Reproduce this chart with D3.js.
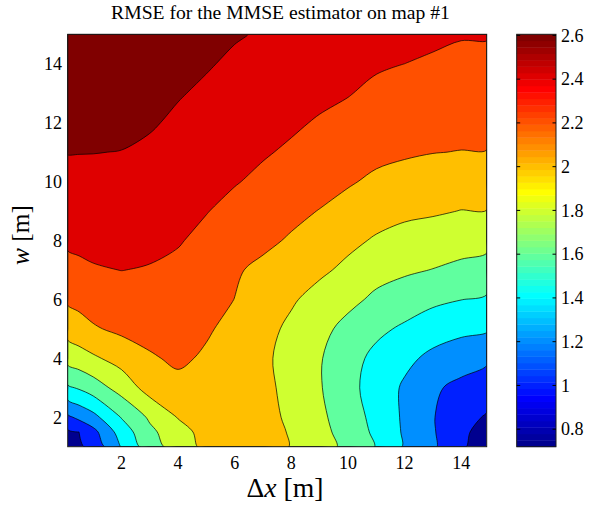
<!DOCTYPE html>
<html><head><meta charset="utf-8">
<script src="https://cdn.jsdelivr.net/npm/d3@7"></script>
<style>
body{margin:0;background:#fff}
svg{display:block}
</style>
</head><body>
<svg id="chart" width="589" height="506" font-family="'Liberation Serif', 'DejaVu Serif', serif"></svg>
<script>
// ---- data ----
const title = "RMSE for the MMSE estimator on map #1";
const xGrid = [0.1, 0.5, 1, 2, 3, 4, 5, 6, 7, 8, 9, 10, 11, 12, 13, 14, 14.9];   // Δx [m]
const yGrid = [1, 1.5, 2, 3, 4, 5, 6, 7, 8, 9, 10, 11, 12, 13, 14, 15];            // w [m]
// RMSE values, one row per w (bottom to top), one column per Δx
const rmseW1   = [0.72, 0.77, 0.86, 1.21, 1.51, 1.69, 1.85, 1.93, 1.90, 1.79, 1.68, 1.55, 1.39, 1.18, 1.03, 0.82, 0.72];
const rmseW1_5 = [0.77, 0.80, 0.94, 1.29, 1.556, 1.723, 1.87, 1.94, 1.89, 1.78, 1.659, 1.522, 1.36, 1.175, 1.019, 0.832, 0.74];
const rmseW2   = [0.96, 1.047, 1.14, 1.41, 1.63, 1.81, 1.91, 1.94, 1.87, 1.76, 1.64, 1.50, 1.34, 1.17, 1.01, 0.875, 0.78];
const rmseW3   = [1.37, 1.42, 1.50, 1.68, 1.88, 1.95, 1.96, 1.93, 1.855, 1.736, 1.615, 1.46, 1.315, 1.173, 1.029, 0.95, 0.90];
const rmseW4   = [1.67, 1.713, 1.77, 1.874, 1.98, 2.03, 1.976, 1.905, 1.834, 1.736, 1.615, 1.474, 1.35, 1.245, 1.155, 1.09, 1.033];
const rmseW5   = [1.88, 1.924, 1.98, 2.04, 2.06, 2.064, 2.02, 1.949, 1.859, 1.762, 1.652, 1.546, 1.442, 1.37, 1.285, 1.245, 1.223];
const rmseW6   = [2.03, 2.055, 2.086, 2.12, 2.125, 2.114, 2.06, 1.998, 1.91, 1.822, 1.735, 1.648, 1.565, 1.50, 1.444, 1.403, 1.377];
const rmseW7   = [2.144, 2.165, 2.186, 2.202, 2.19, 2.164, 2.09, 2.02, 1.96, 1.897, 1.833, 1.76, 1.663, 1.629, 1.595, 1.554, 1.52];
const rmseW8   = [2.23, 2.238, 2.246, 2.25, 2.239, 2.212, 2.158, 2.095, 2.039, 1.98, 1.911, 1.843, 1.78, 1.736, 1.709, 1.68, 1.66];
const rmseW9   = [2.29, 2.295, 2.299, 2.299, 2.283, 2.252, 2.206, 2.153, 2.10, 2.046, 1.994, 1.94, 1.873, 1.838, 1.821, 1.796, 1.797];
const rmseW10  = [2.35, 2.351, 2.352, 2.348, 2.328, 2.293, 2.25, 2.21, 2.166, 2.11, 2.069, 2.017, 1.969, 1.937, 1.915, 1.894, 1.895];
const rmseW11  = [2.405, 2.404, 2.403, 2.397, 2.372, 2.334, 2.291, 2.252, 2.215, 2.177, 2.121, 2.08, 2.041, 2.021, 2.004, 1.996, 1.996];
const rmseW12  = [2.456, 2.452, 2.448, 2.44, 2.416, 2.374, 2.333, 2.293, 2.259, 2.224, 2.185, 2.146, 2.101, 2.081, 2.062, 2.052, 2.052];
const rmseW13  = [2.504, 2.498, 2.492, 2.484, 2.461, 2.411, 2.375, 2.334, 2.301, 2.27, 2.237, 2.209, 2.161, 2.14, 2.119, 2.108, 2.108];
const rmseW14  = [2.552, 2.545, 2.536, 2.527, 2.505, 2.444, 2.413, 2.375, 2.343, 2.315, 2.286, 2.259, 2.222, 2.20, 2.177, 2.164, 2.164];
const rmseW15  = [2.605, 2.59, 2.571, 2.54, 2.508, 2.476, 2.445, 2.413, 2.385, 2.36, 2.335, 2.31, 2.285, 2.26, 2.235, 2.21, 2.21];
const levels = [0.8, 1.0, 1.2, 1.4, 1.6, 1.8, 2.0, 2.2, 2.4];
const xTicks = [2, 4, 6, 8, 10, 12, 14];
const yTicks = [2, 4, 6, 8, 10, 12, 14];
const cTicks = [0.8, 1, 1.2, 1.4, 1.6, 1.8, 2, 2.2, 2.4, 2.6];
const cRange = [0.72, 2.605];

const rmse = [rmseW1, rmseW1_5, rmseW2, rmseW3, rmseW4, rmseW5, rmseW6, rmseW7, rmseW8,
              rmseW9, rmseW10, rmseW11, rmseW12, rmseW13, rmseW14, rmseW15];

// ---- layout ----
const plot = {left: 67.7, right: 486.7, top: 34.3, bottom: 446.7};
const cbar = {left: 516.7, right: 556, top: 34.3, bottom: 446.7};
const FONT = "'Liberation Serif', 'DejaVu Serif', serif";

const svg = d3.select("#chart");
const x = d3.scaleLinear().domain([0.1, 14.9]).range([plot.left, plot.right]);
const y = d3.scaleLinear().domain([1, 15]).range([plot.bottom, plot.top]);
const cy = d3.scaleLinear().domain(cRange).range([cbar.bottom, cbar.top]);

// MATLAB jet(64)
function jetIndex(i) {
  i = Math.max(0, Math.min(63, i));
  const r = i <= 23 ? 0 : i <= 39 ? (i - 23) / 16 : i <= 55 ? 1 : 1 - (i - 55) / 16;
  const g = i <= 7 ? 0 : i <= 23 ? (i - 7) / 16 : i <= 39 ? 1 : i <= 55 ? 1 - (i - 39) / 16 : 0;
  const b = i <= 7 ? 0.5625 + i / 16 : i <= 23 ? 1 : i <= 39 ? 1 - (i - 23) / 16 : 0;
  return d3.rgb(r * 255, g * 255, b * 255).formatHex();
}
function jet(v) {
  return jetIndex(Math.floor((v - cRange[0]) / (cRange[1] - cRange[0]) * 64));
}

// ---- contours ----
const n = xGrid.length, m = yGrid.length;
const values = rmse.flat();
const contours = d3.contours().size([n, m]).thresholds(levels)(values);

function gridVal(arr, c) {
  c = Math.max(0, Math.min(arr.length - 1, c - 0.5));
  const i = Math.min(arr.length - 2, Math.floor(c));
  const f = c - i;
  return arr[i] + f * (arr[i + 1] - arr[i]);
}
const toPx = p => [x(gridVal(xGrid, p[0])), y(gridVal(yGrid, p[1]))];
const ringLine = d3.line().curve(d3.curveCatmullRomClosed.alpha(0.5));
function pathFor(mp) {
  return mp.coordinates.map(poly => poly.map(ring => {
    const pts = ring.slice(0, -1).map(toPx);
    return ringLine(pts);
  }).join("")).join("");
}

svg.append("clipPath").attr("id", "clip").append("rect")
  .attr("x", plot.left).attr("y", plot.top)
  .attr("width", plot.right - plot.left).attr("height", plot.bottom - plot.top);

const g = svg.append("g").attr("clip-path", "url(#clip)");
g.append("rect")
  .attr("x", plot.left).attr("y", plot.top)
  .attr("width", plot.right - plot.left).attr("height", plot.bottom - plot.top)
  .attr("fill", jet(cRange[0]));

const fillLevels = levels.slice(1).concat([2.6]);
g.selectAll("path.band").data(contours).join("path")
  .attr("class", "band")
  .attr("d", d => pathFor(d))
  .attr("fill", (d, i) => jet(fillLevels[i]))
  .attr("fill-rule", "evenodd")
  .attr("stroke", "#000")
  .attr("stroke-width", 0.7)
  .attr("stroke-linejoin", "round");

svg.append("rect")
  .attr("x", plot.left).attr("y", plot.top)
  .attr("width", plot.right - plot.left).attr("height", plot.bottom - plot.top)
  .attr("fill", "none").attr("stroke", "#1a1a1a").attr("stroke-width", 1);

// fit a text element to a target width (measured from the reference)
function fitWidth(sel, target, base) {
  const len = sel.node().getComputedTextLength();
  if (len > 0) sel.attr("font-size", Math.min(base * 1.35, Math.max(base * 0.75, base * target / len)));
}

// ---- axes labels ----
svg.append("g").selectAll("text").data(xTicks).join("text")
  .attr("x", d => x(d)).attr("y", 469)
  .attr("text-anchor", "middle").attr("font-size", 18).attr("font-family", FONT)
  .text(d => d);
svg.append("g").selectAll("text").data(yTicks).join("text")
  .attr("x", 62).attr("y", d => y(d)).attr("dy", "0.35em")
  .attr("text-anchor", "end").attr("font-size", 18).attr("font-family", FONT)
  .text(d => d);

const tt = svg.append("text").attr("x", 280.5).attr("y", 19)
  .attr("text-anchor", "middle").attr("font-size", 19).attr("font-family", FONT).text(title);
fitWidth(tt, 339, 19);

const xl = svg.append("text").attr("x", 285).attr("y", 497)
  .attr("text-anchor", "middle").attr("font-size", 26).attr("font-family", FONT);
xl.append("tspan").text("Δ");
xl.append("tspan").attr("font-style", "italic").text("x");
xl.append("tspan").text(" [m]");
fitWidth(xl, 77, 26);

const yl = svg.append("text")
  .attr("transform", `translate(29,235) rotate(-90)`)
  .attr("text-anchor", "middle").attr("font-size", 26).attr("font-family", FONT);
yl.append("tspan").attr("font-style", "italic").text("w");
yl.append("tspan").text(" [m]");
fitWidth(yl, 60, 26);

// ---- colorbar ----
const cb = svg.append("g");
const bands = d3.range(64);
const step = (cRange[1] - cRange[0]) / 64;
cb.selectAll("rect.cb").data(bands).join("rect")
  .attr("class", "cb")
  .attr("x", cbar.left)
  .attr("y", i => cy(cRange[0] + (i + 1) * step))
  .attr("width", cbar.right - cbar.left)
  .attr("height", i => cy(cRange[0] + i * step) - cy(cRange[0] + (i + 1) * step) + 0.4)
  .attr("fill", i => jetIndex(i));
cb.append("rect")
  .attr("x", cbar.left).attr("y", cbar.top)
  .attr("width", cbar.right - cbar.left).attr("height", cbar.bottom - cbar.top)
  .attr("fill", "none").attr("stroke", "#1a1a1a").attr("stroke-width", 1);
cb.selectAll("line.tl").data(cTicks).join("line")
  .attr("class", "tl")
  .attr("x1", cbar.left).attr("x2", cbar.left + 3.5)
  .attr("y1", d => cy(d)).attr("y2", d => cy(d))
  .attr("stroke", "#000").attr("stroke-width", 1);
cb.selectAll("line.tr").data(cTicks).join("line")
  .attr("class", "tr")
  .attr("x1", cbar.right - 3.5).attr("x2", cbar.right)
  .attr("y1", d => cy(d)).attr("y2", d => cy(d))
  .attr("stroke", "#000").attr("stroke-width", 1);
cb.selectAll("text").data(cTicks).join("text")
  .attr("x", cbar.right + 5).attr("y", d => cy(d)).attr("dy", "0.35em")
  .attr("font-size", 18).attr("font-family", FONT)
  .text(d => d);
</script>
</body></html>
